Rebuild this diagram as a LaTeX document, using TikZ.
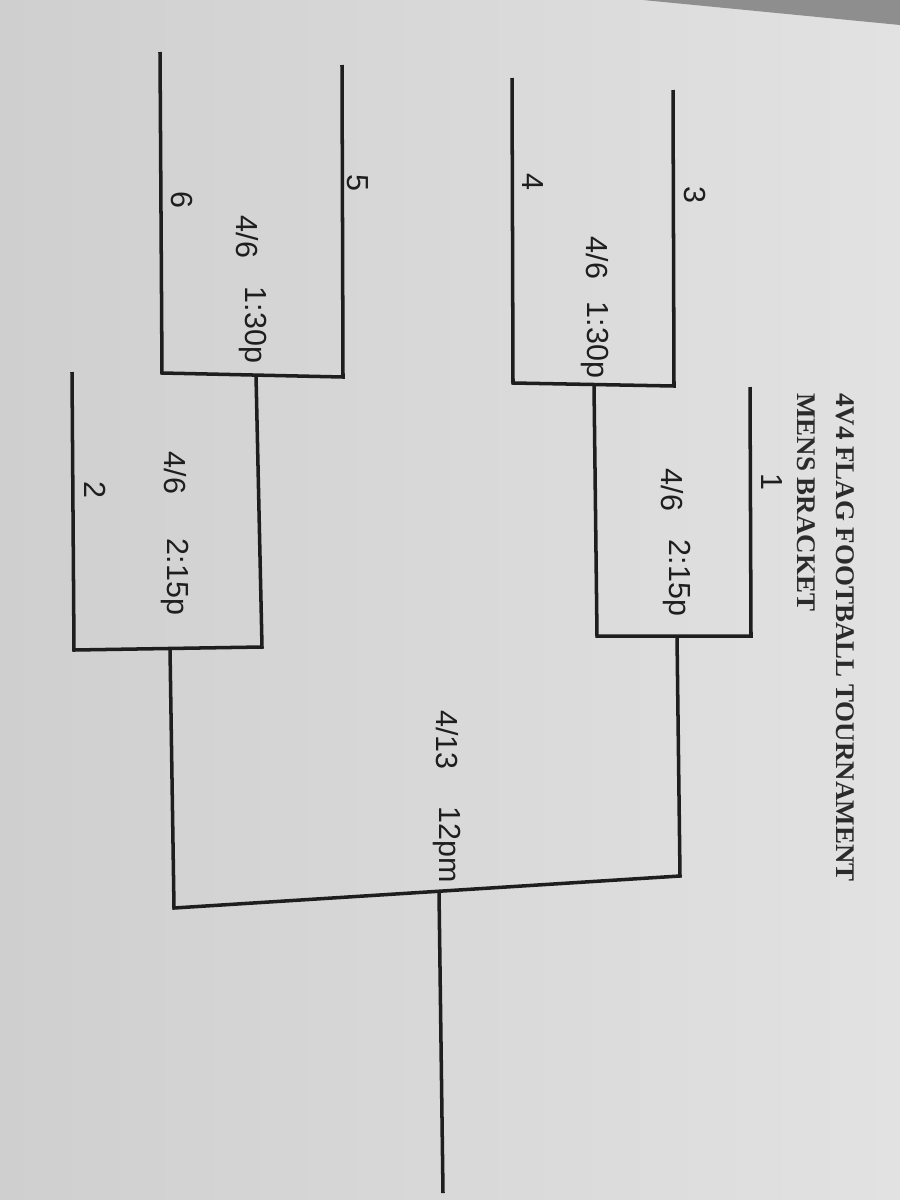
\documentclass[tikz,border=0pt]{standalone}
\usepackage{fontspec}
\setmainfont{Liberation Serif}
\newfontfamily\handfont{Liberation Sans}
\usepackage{tikz}
\usetikzlibrary{positioning}
\usepackage{xcolor}
\definecolor{paperL}{HTML}{CFCFCF}
\definecolor{paperR}{HTML}{E2E2E2}
\definecolor{tabletop}{HTML}{8E8E8E}
\definecolor{ink}{HTML}{1E1E1E}
\definecolor{print}{HTML}{2B2B2B}

\begin{document}
\begin{tikzpicture}[x=0.03cm,y=-0.03cm,
  bar/.style={draw=ink,line width=3pt,line join=miter},
  hand/.style={ink,rotate=-90,inner sep=0pt,font=\handfont\fontsize{26}{28}\selectfont},
  title/.style={print,rotate=-90,anchor=west,inner sep=0pt,font=\bfseries\fontsize{23}{26}\selectfont}]
% paper and table
\fill[left color=paperL,right color=paperR] (0,0) rectangle (900,1200);
\fill[tabletop] (643,0) -- (900,0) -- (900,25) -- cycle;
% title
\node[title] (head1) at (845,393) {4V4 FLAG FOOTBALL TOURNAMENT};
\node[title] (head2) at (806,393) {MENS BRACKET};
% team slots
\coordinate (t6top) at (160,52);
\coordinate (t6bot) at (162,373);
\coordinate (t5top) at (342,65);
\coordinate (t5bot) at (343,377);
\coordinate (t4top) at (512,78);
\coordinate (t4bot) at (513,383);
\coordinate (t3top) at (673,90);
\coordinate (t3bot) at (674,386);
\coordinate (t2top) at (72,372);
\coordinate (t2bot) at (74,650);
\coordinate (t1top) at (750,387);
\coordinate (t1bot) at (751,636);
% winners
\coordinate (gA) at (594,385);
\coordinate (gB) at (256,375);
\coordinate (cC) at (597,636);
\coordinate (cD) at (262,647);
\coordinate (gC) at (677,636);
\coordinate (gD) at (170,649);
\coordinate (cF1) at (680,876);
\coordinate (cF2) at (174,908);
\coordinate (gF) at (439,892);
\coordinate (champ) at (443,1193);
\draw[bar] (t4top) -- (t4bot) -- (t3bot) -- (t3top);
\draw[bar] (t6top) -- (t6bot) -- (t5bot) -- (t5top);
\draw[bar] (gA) -- (cC) -- (t1bot) -- (t1top);
\draw[bar] (gB) -- (cD) -- (t2bot) -- (t2top);
\draw[bar] (gC) -- (cF1) -- (cF2) -- (gD);
\draw[bar] (gF) -- (champ);
% seeds
\node[hand] (seed3) at (695,195) {3};
\node[hand] (seed4) at (533,182) {4};
\node[hand] (seed5) at (358,183) {5};
\node[hand] (seed6) at (182,200) {6};
\node[hand] (seed1) at (772,482) {1};
\node[hand] (seed2) at (95,490) {2};
% dates and times
\node[hand] (dayA) at (597,258) {4/6};
\node[hand] (timeA) at (595,340) {1:30p};
\node[hand] (dayB) at (247,237) {4/6};
\node[hand] (timeB) at (253,325) {1:30p};
\node[hand] (dayC) at (672,490) {4/6};
\node[hand] (timeC) at (677,578) {2:15p};
\node[hand] (dayD) at (175,473) {4/6};
\node[hand] (timeD) at (175,577) {2:15p};
\node[hand] (dayF) at (447,740) {4/13};
\node[hand] (timeF) at (447,845) {12pm};
\end{tikzpicture}
\end{document}
